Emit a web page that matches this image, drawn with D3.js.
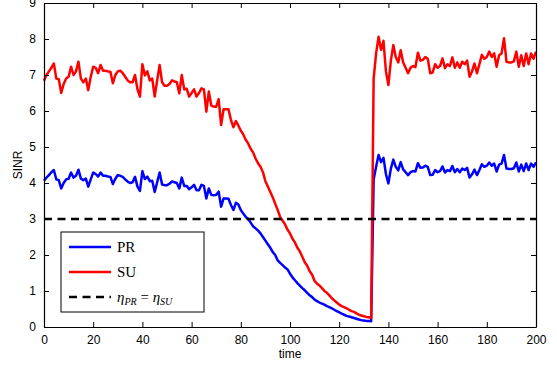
<!DOCTYPE html>
<html>
<head>
<meta charset="utf-8">
<script src="https://cdn.jsdelivr.net/npm/d3@7"></script>
<style>
  html, body { margin: 0; padding: 0; background: #fff; }
  svg { display: block; }
  .tick text { font-family: "Liberation Sans", Arial, sans-serif; font-size: 12px; fill: #000; }
</style>
</head>
<body>
<div id="chart"></div>
<script>
// time axis samples 0..200
const timeValues = d3.range(0, 201);

// PR series (blue)
const prValues = [
  4.06, 4.15, 4.22, 4.30, 4.36, 4.10, 4.08, 3.85, 4.00, 4.10,
  4.12, 4.29, 4.15, 4.20, 4.37, 4.12, 4.08, 4.12, 3.90, 4.10,
  4.29, 4.25, 4.18, 4.29, 4.20, 4.20, 4.18, 4.17, 3.97, 4.12,
  4.22, 4.20, 4.17, 4.10, 4.04, 4.00, 4.02, 4.17, 3.90, 3.78,
  4.33, 4.11, 4.18, 4.05, 4.06, 3.75, 4.02, 4.29, 3.96, 3.94,
  3.94, 3.98, 4.04, 4.02, 4.00, 3.85, 4.15, 3.92, 3.92, 3.83,
  3.88, 3.95, 3.80, 3.80, 3.95, 3.92, 3.57, 3.85, 3.67, 3.66,
  3.67, 3.76, 3.34, 3.57, 3.57, 3.56, 3.39, 3.25, 3.45, 3.40,
  3.25, 3.15, 3.06, 3.00, 2.90, 2.80, 2.74, 2.68, 2.60, 2.50,
  2.40, 2.30, 2.20, 2.08, 2.00, 1.85, 1.78, 1.72, 1.65, 1.60,
  1.48, 1.38, 1.30, 1.22, 1.15, 1.08, 1.02, 0.95, 0.88, 0.83,
  0.76, 0.72, 0.68, 0.65, 0.62, 0.58, 0.55, 0.52, 0.48, 0.44,
  0.41, 0.37, 0.34, 0.31, 0.29, 0.27, 0.25, 0.23, 0.21, 0.19,
  0.18, 0.17, 0.17, 0.16, 4.10, 4.45, 4.78, 4.58, 4.70, 4.25,
  3.99, 4.40, 4.65, 4.45, 4.35, 4.58, 4.38, 4.30, 4.22, 4.30,
  4.33, 4.32, 4.55, 4.42, 4.43, 4.48, 4.45, 4.22, 4.23, 4.36,
  4.30, 4.33, 4.46, 4.29, 4.36, 4.33, 4.47, 4.30, 4.39, 4.30,
  4.40, 4.36, 4.42, 4.15, 4.24, 4.37, 4.22, 4.36, 4.52, 4.45,
  4.48, 4.57, 4.48, 4.54, 4.32, 4.51, 4.54, 4.78, 4.40, 4.39,
  4.39, 4.41, 4.57, 4.32, 4.51, 4.33, 4.54, 4.36, 4.54, 4.45,
  4.57
];

// SU series (red)
const suValues = [
  6.84, 7.00, 7.10, 7.20, 7.32, 6.90, 6.88, 6.50, 6.75, 6.90,
  6.95, 7.23, 7.00, 7.10, 7.37, 6.90, 6.80, 6.90, 6.58, 6.95,
  7.23, 7.20, 7.05, 7.28, 7.12, 7.12, 7.10, 7.09, 6.77, 7.00,
  7.10, 7.12, 7.05, 6.95, 6.85, 6.80, 6.80, 7.00, 6.60, 6.40,
  7.30, 6.99, 7.10, 6.85, 6.90, 6.40, 6.85, 7.28, 6.80, 6.70,
  6.70, 6.75, 6.85, 6.82, 6.80, 6.49, 7.00, 6.60, 6.62, 6.40,
  6.50, 6.60, 6.40, 6.50, 6.63, 6.60, 5.98, 6.54, 6.15, 6.12,
  6.12, 6.33, 5.61, 6.05, 6.05, 6.05, 5.75, 5.55, 5.72, 5.60,
  5.45, 5.35, 5.20, 5.10, 4.95, 4.85, 4.68, 4.55, 4.45, 4.30,
  4.05, 3.90, 3.75, 3.60, 3.42, 3.25, 3.05, 2.95, 2.85, 2.70,
  2.60, 2.45, 2.35, 2.20, 2.10, 1.95, 1.80, 1.70, 1.55, 1.45,
  1.28, 1.20, 1.15, 1.08, 1.00, 0.95, 0.88, 0.80, 0.74, 0.68,
  0.62, 0.58, 0.55, 0.52, 0.48, 0.44, 0.42, 0.38, 0.34, 0.32,
  0.30, 0.28, 0.27, 0.25, 6.90, 7.60, 8.06, 7.70, 7.95, 7.10,
  6.72, 7.40, 7.83, 7.50, 7.35, 7.69, 7.35, 7.20, 7.05, 7.20,
  7.25, 7.22, 7.62, 7.40, 7.42, 7.50, 7.45, 7.05, 7.07, 7.30,
  7.20, 7.25, 7.46, 7.19, 7.30, 7.25, 7.49, 7.20, 7.35, 7.20,
  7.37, 7.30, 7.40, 6.95, 7.10, 7.32, 7.05, 7.30, 7.56, 7.45,
  7.50, 7.65, 7.50, 7.60, 7.23, 7.55, 7.60, 8.02, 7.37, 7.35,
  7.35, 7.38, 7.65, 7.23, 7.55, 7.25, 7.60, 7.30, 7.60, 7.45,
  7.65
];

const thresholdValue = 3;
const xTicks = [0, 20, 40, 60, 80, 100, 120, 140, 160, 180, 200];
const yTicks = [0, 1, 2, 3, 4, 5, 6, 7, 8, 9];
const legendLabels = ['PR', 'SU'];

const W = 557, H = 368;
const margin = { top: 3, right: 21, bottom: 41, left: 44 };
const width = W - margin.left - margin.right;
const height = H - margin.top - margin.bottom;

const svg = d3.select('#chart')
  .append('svg')
    .attr('width', W)
    .attr('height', H);

const g = svg.append('g')
  .attr('transform', `translate(${margin.left},${margin.top})`);

const x = d3.scaleLinear().domain([0, 200]).range([0, width]);
const y = d3.scaleLinear().domain([0, 9]).range([height, 0]);

// Lines
const line = d3.line()
  .x((d, i) => x(timeValues[i]))
  .y(d => y(d));

g.append('path')
  .datum(prValues)
  .attr('fill', 'none')
  .attr('stroke', '#0000ff')
  .attr('stroke-width', 2.5)
  .attr('stroke-linejoin', 'round')
  .attr('d', line);

g.append('path')
  .datum(suValues)
  .attr('fill', 'none')
  .attr('stroke', '#ff0000')
  .attr('stroke-width', 2.5)
  .attr('stroke-linejoin', 'round')
  .attr('d', line);

// threshold
g.append('line')
  .attr('x1', x(0)).attr('x2', x(200))
  .attr('y1', y(thresholdValue)).attr('y2', y(thresholdValue))
  .attr('stroke', '#000')
  .attr('stroke-width', 2.5)
  .attr('stroke-dasharray', '8,5.5');

// Axes (ticks inward, matlab style)
const tk = 5;
g.append('g')
  .attr('transform', `translate(0,${height})`)
  .call(d3.axisBottom(x).tickValues(xTicks).tickSizeInner(-tk).tickSizeOuter(0).tickPadding(8));
g.append('g')
  .call(d3.axisTop(x).tickValues(xTicks).tickSizeInner(-tk).tickSizeOuter(0).tickFormat(''));
g.append('g')
  .call(d3.axisLeft(y).tickValues(yTicks).tickSizeInner(-tk).tickSizeOuter(0).tickPadding(8));
g.append('g')
  .attr('transform', `translate(${width},0)`)
  .call(d3.axisRight(y).tickValues(yTicks).tickSizeInner(-tk).tickSizeOuter(0).tickFormat(''));

g.selectAll('.domain').attr('stroke', '#000').attr('stroke-width', 1.2);
g.selectAll('.tick line').attr('stroke', '#000');

// axis titles
svg.append('text')
  .attr('x', margin.left + x(100))
  .attr('y', 358)
  .attr('text-anchor', 'middle')
  .style('font-family', '"Liberation Sans", Arial, sans-serif')
  .style('font-size', '12px')
  .text('time');

svg.append('text')
  .attr('transform', `translate(22,${margin.top + height / 2}) rotate(-90)`)
  .attr('text-anchor', 'middle')
  .style('font-family', '"Liberation Sans", Arial, sans-serif')
  .style('font-size', '12px')
  .text('SINR');

// Legend
const legend = svg.append('g').attr('transform', 'translate(61,232)');
legend.append('rect')
  .attr('width', 143).attr('height', 80)
  .attr('fill', '#fff').attr('stroke', '#000').attr('stroke-width', 1);

const items = [
  { label: legendLabels[0], color: '#0000ff', dash: null },
  { label: legendLabels[1], color: '#ff0000', dash: null },
  { label: null, color: '#000', dash: '8,5.5' }
];

items.forEach((it, i) => {
  const yy = 15 + i * 25;
  legend.append('line')
    .attr('x1', 8).attr('x2', 50)
    .attr('y1', yy).attr('y2', yy)
    .attr('stroke', it.color)
    .attr('stroke-width', 2.5)
    .attr('stroke-dasharray', it.dash);
  const t = legend.append('text')
    .attr('x', 56).attr('y', yy + 5)
    .style('font-family', '"Liberation Serif", "Times New Roman", serif')
    .style('font-size', '15px');
  if (it.label) {
    t.text(it.label);
  } else {
    t.append('tspan').style('font-style', 'italic').text('η');
    t.append('tspan').style('font-style', 'italic').style('font-size', '10px').attr('dy', 3).text('PR');
    t.append('tspan').attr('dy', -3).text(' = ');
    t.append('tspan').style('font-style', 'italic').text('η');
    t.append('tspan').style('font-style', 'italic').style('font-size', '10px').attr('dy', 3).text('SU');
  }
});
</script>
</body>
</html>
